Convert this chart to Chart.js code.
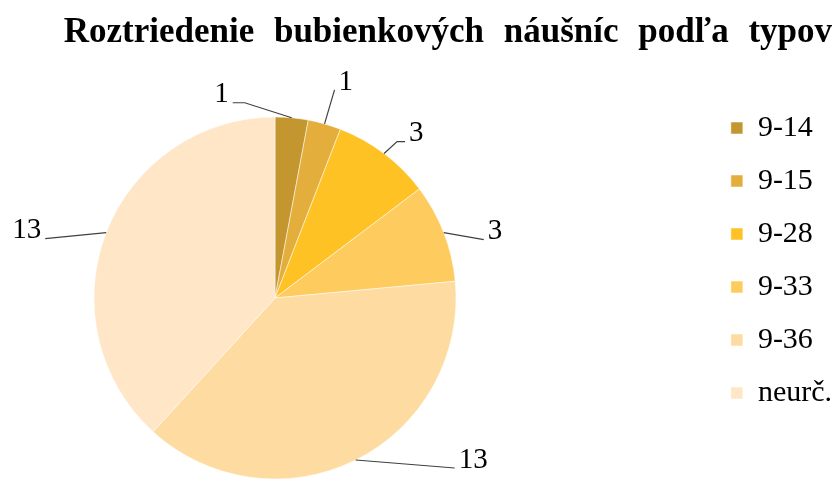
<!DOCTYPE html>
<html>
<head>
<meta charset="utf-8">
<script src="https://cdn.jsdelivr.net/npm/chart.js@4"></script>
<style>
html, body { margin: 0; padding: 0; background: #fff; }
canvas { display: block; }
</style>
</head>
<body>
<canvas id="chart" width="837" height="479"></canvas>
<script>
'use strict';

// ── Data ─────────────────────────────────────────────────────────────────────
const TITLE = 'Roztriedenie bubienkových náušníc podľa typov';
const TYPES = ['9-14', '9-15', '9-28', '9-33', '9-36', 'neurč.'];
const COUNTS = [1, 1, 3, 3, 13, 13];

// ── Style ────────────────────────────────────────────────────────────────────
const COLORS = ['#C4962F', '#E3AE3C', '#FEC224', '#FECC5E', '#FEDBA0', '#FEE6C7'];
const SERIF = '"Liberation Serif", "Times New Roman", serif';
const PIE_CENTER = { x: 275, y: 298 };
// leader line: bend point (dx, dy from slice edge) + short horizontal tail
const LEADERS = [[-47, -15, 12], [10, -34, 0], [13, -12, 8], [40, 7, 0], [99, 8, 0], [-61, 6, 0]];

// ── Put the pie where the original had it (left of centre) ───────────────────
const pieFrame = {
  id: 'pieFrame',
  afterLayout(chart) {
    const a = chart.chartArea;
    a.left = 2 * PIE_CENTER.x - a.right;
    a.bottom = 2 * PIE_CENTER.y - a.top;
    a.width = a.right - a.left;
    a.height = a.bottom - a.top;
    // legend keeps 10px of slack on its right, use it
    chart.legend.left += 10;
    chart.legend.right += 10;
  },
  beforeDraw(chart) {
    chart.ctx.wordSpacing = '11px';
  }
};

// ── Value labels with leader lines ───────────────────────────────────────────
const leaderLabels = {
  id: 'leaderLabels',
  afterDatasetsDraw(chart) {
    const ctx = chart.ctx;
    const values = chart.data.datasets[0].data;
    ctx.save();
    ctx.font = '29px ' + SERIF;
    ctx.strokeStyle = '#404040';
    ctx.lineWidth = 1.2;
    ctx.fillStyle = '#000';
    ctx.textBaseline = 'middle';
    chart.getDatasetMeta(0).data.forEach((arc, i) => {
      const mid = (arc.startAngle + arc.endAngle) / 2;
      const ex = arc.x + Math.cos(mid) * arc.outerRadius;
      const ey = arc.y + Math.sin(mid) * arc.outerRadius;
      const [dx, dy, tail] = LEADERS[i];
      const side = dx < 0 ? -1 : 1;
      const bx = ex + dx, by = ey + dy;
      const tx = bx + side * tail;
      ctx.beginPath();
      ctx.moveTo(ex, ey);
      ctx.lineTo(bx, by);
      ctx.lineTo(tx, by);
      ctx.stroke();
      ctx.textAlign = side < 0 ? 'right' : 'left';
      ctx.fillText(String(values[i]), tx + side * 4, by - 8);
    });
    ctx.restore();
  }
};

new Chart(document.getElementById('chart'), {
  type: 'pie',
  data: {
    labels: TYPES,
    datasets: [{
      data: COUNTS,
      backgroundColor: COLORS,
      borderColor: 'rgba(255,255,255,0.5)',
      borderWidth: 1,
      radius: 181
    }]
  },
  options: {
    responsive: false,
    animation: false,
    layout: { padding: { left: 0, right: 5, top: 0, bottom: 0 } },
    plugins: {
      title: {
        display: true, text: TITLE, align: 'end', color: '#000',
        font: { family: SERIF, size: 35, weight: 'bold' },
        padding: { top: 12, bottom: 36 }
      },
      legend: {
        position: 'right', align: 'start', fullSize: false,
        labels: { color: '#000', font: { family: SERIF, size: 30 }, boxWidth: 12, boxHeight: 12, padding: 23 }
      },
      tooltip: { enabled: false }
    }
  },
  plugins: [pieFrame, leaderLabels]
});
</script>
</body>
</html>
